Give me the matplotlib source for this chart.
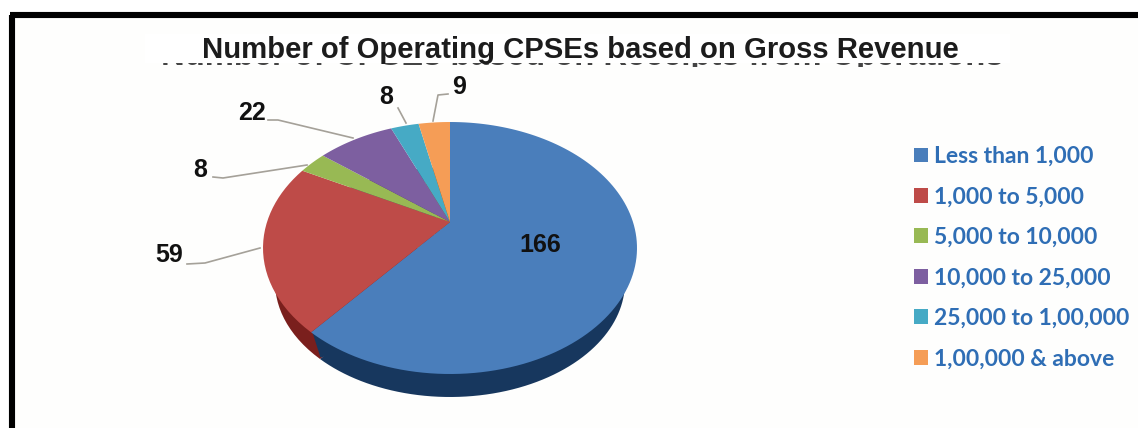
import numpy as np
import matplotlib
matplotlib.use("Agg")
import matplotlib.pyplot as plt
from matplotlib.patches import Rectangle, Polygon
from matplotlib.path import Path
from matplotlib.transforms import Transform, Bbox

categories = ["Less than 1,000", "1,000 to 5,000", "5,000 to 10,000",
              "10,000 to 25,000", "25,000 to 1,00,000", "1,00,000 & above"]
values = [166, 59, 8, 22, 8, 9]
top_colors = ["#4A7EBB", "#BE4B48", "#98B954", "#7D5FA0", "#46AAC5", "#F59D56"]
side_colors = ["#17375E", "#7A1F1D", "#5F7530", "#4A3564", "#215968", "#974806"]
title_text = "Number of Operating CPSEs based on Gross Revenue"
old_title_text = "Number of CPSEs based on Receipts from Operations"


class TiltedDisc(Transform):
    """Perspective view of the unit disc, mapped to image pixels."""
    input_dims = output_dims = 2

    def __init__(self, cx, cy, rx, ry, c):
        super().__init__()
        self.p = (cx, cy, rx, ry, c)

    def transform_non_affine(self, xy):
        cx, cy, rx, ry, c = self.p
        xy = np.asarray(xy, float)
        d = 1 + c * xy[:, 1]
        xp = xy[:, 0] * np.sqrt(1 - c * c) / d
        yp = (xy[:, 1] + c) / d
        return np.column_stack([cx + rx * xp, cy - ry * yp])

    def transform_path_non_affine(self, path):
        pts = []
        t = np.linspace(0, 1, 16)
        for curve, code in path.iter_bezier():
            if code == Path.MOVETO:
                pts.append(curve.control_points)
            else:
                pts.append(curve(t))
        return Path(self.transform_non_affine(np.vstack(pts)))


fig = plt.figure(figsize=(11.38, 4.28), dpi=100, facecolor="white")
ax = fig.add_axes([0, 0, 1, 1])

side, _ = ax.pie(values, colors=side_colors, startangle=90, counterclock=False,
                 wedgeprops=dict(linewidth=0))
top, _ = ax.pie(values, colors=top_colors, startangle=90, counterclock=False,
                wedgeprops=dict(linewidth=0))
ax.set_xlim(0, 1138)
ax.set_ylim(428, 0)
ax.set_aspect("auto")
ax.axis("off")

side_tf = TiltedDisc(450, 282, 175, 115, 0.206) + ax.transData
top_tf = TiltedDisc(450, 248, 187, 126, 0.206) + ax.transData
for w in side:
    w.set_transform(side_tf)
    w.set_zorder(2)
for w in top:
    w.set_transform(top_tf)
    w.set_zorder(3)
# the slice wall edge is upright where blue meets red
ax.add_patch(Polygon([(312, 331), (320.5, 357.5), (345, 352), (345, 331)],
                     closed=True, fc=side_colors[0], ec="none", zorder=2.5))

# panel background and black frame
ax.add_patch(Rectangle((15, 18), 1123, 410, fc="#FEFEFD", ec="none", zorder=0))
ax.plot([12, 12], [428, 15], color="black", lw=4.4, solid_capstyle="butt", zorder=5)
ax.plot([9.8, 1138], [15, 15], color="black", lw=4.4, solid_capstyle="butt", zorder=5)

# old title cut off by the white box of the new one
old = ax.text(582, 65, old_title_text, ha="center", va="baseline", fontsize=23.6,
              family="Liberation Sans", weight="bold", color="#444444", zorder=1)
old.set_clip_box(Bbox([[145, 428 - 67], [1010, 428 - 62]]))
old.set_clip_on(True)
ax.add_patch(Rectangle((145, 34), 865, 29, fc="white", ec="none", zorder=1.5))
ax.text(580, 58, title_text, ha="center", va="baseline", fontsize=21.05,
        family="Liberation Sans", weight="bold", color="#1C1C1C", zorder=6)

# value labels and leader lines
label_xy = [(540, 245), (169, 255), (200, 170), (252, 113), (386, 97), (459, 87)]
leaders = [None,
           [(187, 264), (205, 263), (260, 248)],
           [(213, 177), (223, 178), (307, 165)],
           [(268, 120), (278, 120), (353, 138)],
           [(398, 108), (406, 123)],
           [(448, 94), (438, 95), (433, 121)]]
for v, (x, y), ln in zip(values, label_xy, leaders):
    ax.text(x, y, str(v), ha="center", va="center", fontsize=18,
            family="Liberation Sans", weight="bold", color="#111111", zorder=6)
    if ln:
        ax.plot(*zip(*ln), color="#A5A199", lw=1.2, zorder=4)

leg = ax.legend(top, categories, loc="upper left", bbox_to_anchor=(0.803, 0.659),
                frameon=False, handlelength=0.61, handleheight=0.61, handletextpad=0.26,
                labelspacing=0.85, borderaxespad=0, borderpad=0,
                prop=dict(family="Lato", weight="bold", size=16.5),
                labelcolor="#2F6EB5")
leg.set_zorder(6)

fig.savefig("out.png", dpi=100, facecolor="white")
